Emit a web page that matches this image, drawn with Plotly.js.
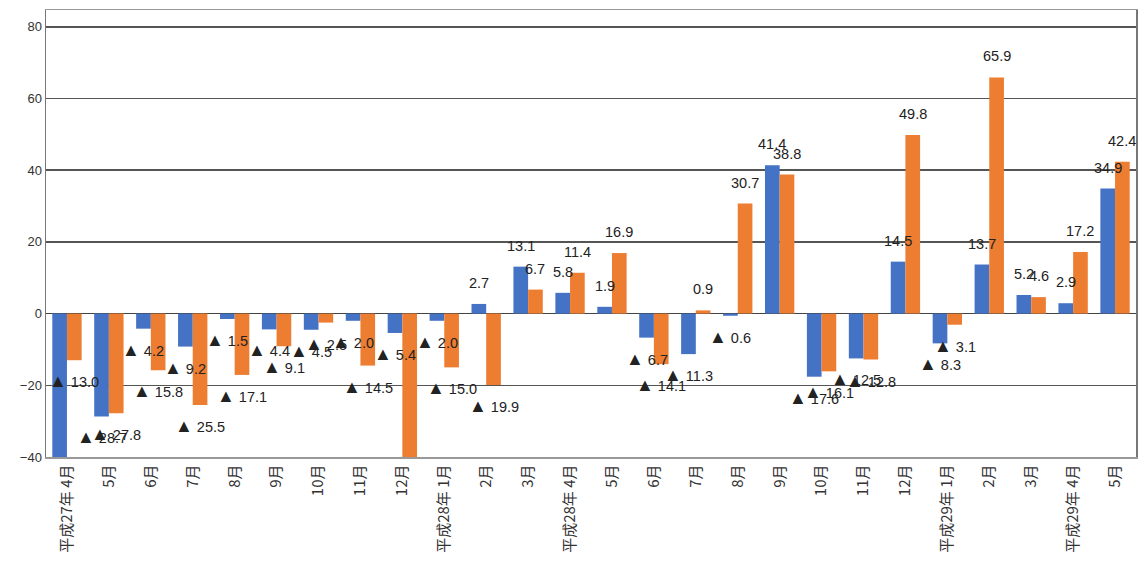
<!DOCTYPE html>
<html>
<head>
<meta charset="utf-8">
<script src="https://cdn.plot.ly/plotly-3.0.1.min.js"></script>
<style>
html,body{margin:0;padding:0;background:#fff;}
#chart{width:1138px;height:574px;}
</style>
</head>
<body>
<div id="chart"></div>
<script>
var tickLabels = ["平成27年 4月","5月","6月","7月","8月","9月","10月","11月","12月",
  "平成28年 1月","2月","3月","平成28年 4月","5月","6月","7月","8月","9月","10月","11月","12月",
  "平成29年 1月","2月","3月","平成29年 4月","5月"];
var seriesBlue = [-44.7,-28.7,-4.2,-9.2,-1.5,-4.4,-4.5,-2.0,-5.4,-2.0,2.7,13.1,5.8,1.9,-6.7,-11.3,-0.6,41.4,-17.6,-12.5,14.5,-8.3,13.7,5.2,2.9,34.9];
var seriesOrange = [-13.0,-27.8,-15.8,-25.5,-17.1,-9.1,-2.5,-14.5,-49.3,-15.0,-19.9,6.7,11.4,16.9,-14.1,0.9,30.7,38.8,-16.1,-12.8,49.8,-3.1,65.9,4.6,17.2,42.4];
var yMin = -40, yMax = 84.7;

var idx = tickLabels.map(function(_, i){ return i; });
function fmt(v){
  return v < 0 ? '<span style="font-size:18px">▲</span> ' + Math.abs(v).toFixed(1) : v.toFixed(1);
}

var font = '"Liberation Sans", Arial, "Noto Sans CJK JP", sans-serif';
var cjkFont = '"Noto Sans CJK JP", "Liberation Sans", sans-serif';
var bargap = 0.3;
var halfBar = (1 - bargap) / 4;

var t1 = {type: 'bar', x: idx, y: seriesBlue, marker: {color: '#4472C4'}, hoverinfo: 'skip', showlegend: false};
var t2 = {type: 'bar', x: idx, y: seriesOrange, marker: {color: '#ED7D31'}, hoverinfo: 'skip', showlegend: false};

function labels(vals, dx){
  return vals.map(function(v, i){
    return {
      x: i + dx, y: v, xref: 'x', yref: 'y', text: fmt(v), showarrow: false,
      yshift: v < 0 ? -21 : 21, font: {family: font, size: 14.5, color: '#222'}
    };
  });
}
var annotations = labels(seriesBlue, -halfBar).concat(labels(seriesOrange, halfBar))
  .filter(function(a){ return a.y >= yMin && a.y <= yMax; });

var boundaries = idx.slice(1).map(function(i){ return i - 0.5; });

var layout = {
  width: 1138, height: 574,
  margin: {l: 46, r: 2, t: 10, b: 117},
  paper_bgcolor: '#fff', plot_bgcolor: '#fff',
  barmode: 'group', bargap: bargap, bargroupgap: 0,
  font: {family: font, color: '#333'},
  annotations: annotations,
  xaxis: {
    range: [-0.5, idx.length - 0.5], tickvals: idx, ticktext: tickLabels,
    tickangle: -90, tickfont: {family: cjkFont, size: 15, color: '#333'},
    showgrid: false, zeroline: false, showline: true, linecolor: '#999', linewidth: 1.5,
    mirror: true, ticks: '', fixedrange: true
  },
  xaxis2: {
    overlaying: 'x', anchor: 'free', position: (0 - yMin) / (yMax - yMin),
    range: [-0.5, idx.length - 0.5], tickvals: boundaries, ticks: 'inside', ticklen: 5,
    tickcolor: '#555', showticklabels: false, showgrid: false, zeroline: false,
    showline: true, linecolor: '#444', linewidth: 1.5, side: 'bottom'
  },
  yaxis: {
    range: [yMin, yMax], tickvals: [-40,-20,0,20,40,60,80],
    tickfont: {size: 13, color: '#333'}, showgrid: true, gridcolor: '#555', gridwidth: 1.5,
    zeroline: true, zerolinecolor: '#444', zerolinewidth: 1.5,
    showline: true, linecolor: '#777', linewidth: 1.5, mirror: true, ticks: '', fixedrange: true
  }
};
Plotly.newPlot('chart', [t1, t2], layout, {staticPlot: true});
</script>
</body>
</html>
